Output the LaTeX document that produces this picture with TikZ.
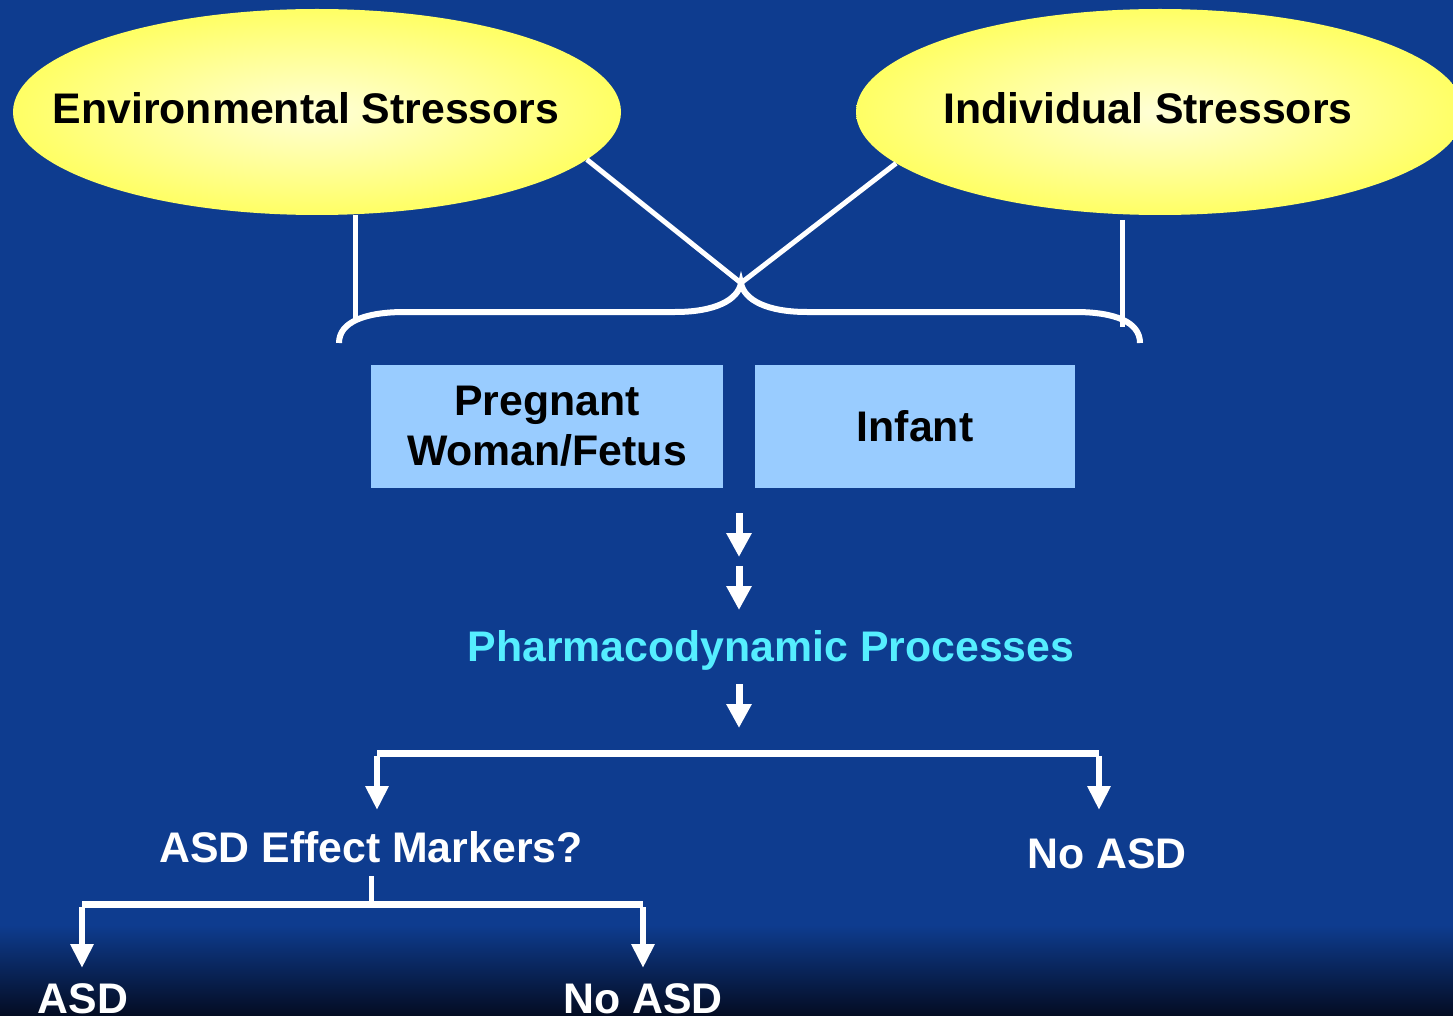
\documentclass[tikz,border=0pt]{standalone}
\usepackage{fontspec}
\setmainfont{Liberation Sans}
\usetikzlibrary{shapes.geometric,arrows.meta}
\definecolor{bg}{RGB}{14,60,143}
\definecolor{bgdark}{RGB}{4,12,34}
\definecolor{ylo}{RGB}{255,255,100}
\definecolor{yhi}{RGB}{255,255,215}
\definecolor{boxblue}{RGB}{153,204,255}
\definecolor{cyantext}{RGB}{85,238,255}
\tikzset{
  bigfont/.style={font=\fontsize{42.8}{50}\selectfont\bfseries},
  stress/.style={ellipse, inner sep=0pt, minimum width=608pt, minimum height=206pt,
    inner color=yhi, outer color=ylo},
  who/.style={rectangle, fill=boxblue, inner sep=0pt, minimum height=123pt, align=center, bigfont},
  label/.style={bigfont, text=white, inner sep=0pt},
  wline/.style={draw=white, line width=5pt},
  brace/.style={draw=white, line width=6pt},
  blockarr/.style={draw=white, line width=7pt, -{Triangle[width=24pt,length=24pt]}},
  treearr/.style={draw=white, line width=6pt, -{Triangle[width=22pt,length=24pt]}},
}
\begin{document}
\begin{tikzpicture}[x=1pt,y=-1pt]
\useasboundingbox (0,0) rectangle (1453,1016);
\fill[bg] (0,0) rectangle (1453,1016);
\shade[top color=bg, bottom color=bgdark] (0,925) rectangle (1453,1016);
\begin{scope}
\clip (0,0) rectangle (1453,1016);
\node[stress] (envL) at (317,112) {};
\node[stress] (indR) at (1160,112) {};
\end{scope}
\node[bigfont, inner sep=0pt] (envT) at (306,108) {Environmental Stressors};
\node[bigfont, inner sep=0pt] (indT) at (1148,108) {Individual Stressors};
% brace and connectors
\coordinate (cross) at (741,283);
\coordinate (bl) at (339,343);
\coordinate (br) at (1140,343);
\coordinate (vlb) at (355,322);
\coordinate (vrb) at (1122,327);
\draw[wline] (envL.-10.9) -- (cross);
\draw[wline] (indR.191.8) -- (cross);
\draw[wline] (355,215) -- (vlb);
\draw[wline] (1122,220) -- (vrb);
\draw[brace] (bl) .. controls (339,322) and (365,312) .. (405,312) -- (675,312)
  .. controls (715,312) and (738,300) .. (cross)
  .. controls (744,300) and (767,312) .. (807,312) -- (1075,312)
  .. controls (1115,312) and (1140,322) .. (br);
% boxes
\node[who, minimum width=352pt] (pwf) at (547,426.5) {Pregnant\\Woman/Fetus};
\node[who, minimum width=320pt] (inf) at (915,426.5) {Infant};
% pharmacodynamics
\node[bigfont, text=cyantext, inner sep=0pt] (pharm) at (771,650) {Pharmacodynamic Processes};
\coordinate (a1s) at (739,513); \coordinate (a1e) at (739,557);
\coordinate (a2s) at (739,566); \coordinate (a2e) at (739,610);
\coordinate (a3s) at (739,684); \coordinate (a3e) at (739,728);
\draw[blockarr] (a1s) -- (a1e);
\draw[blockarr] (a2s) -- (a2e);
\draw[blockarr] (a3s) -- (a3e);
% tree level 1
\node[label] (aem) at (371,847) {ASD Effect Markers?};
\node[label] (noasd1) at (1107,854) {No ASD};
\coordinate (t1l) at (377,753);
\coordinate (t1r) at (1099,753);
\draw[draw=white, line width=7pt] (t1l) -- (t1r);
\draw[treearr] ([yshift=-3pt]t1l) -- (377,810);
\draw[treearr] ([yshift=-3pt]t1r) -- (1099,810);
% tree level 2
\node[label, anchor=base] (asd) at (83,1013) {ASD};
\node[label, anchor=base] (noasd2) at (643,1013) {No ASD};
\coordinate (t2t) at (371,876);
\coordinate (t2m) at (371,904);
\coordinate (t2l) at (82,904);
\coordinate (t2r) at (643,904);
\draw[wline] (t2t) -- (t2m);
\draw[draw=white, line width=7pt] (t2l) -- (t2r);
\draw[treearr] ([yshift=-3pt]t2l) -- (82,968);
\draw[treearr] ([yshift=-3pt]t2r) -- (643,968);
\end{tikzpicture}
\end{document}
